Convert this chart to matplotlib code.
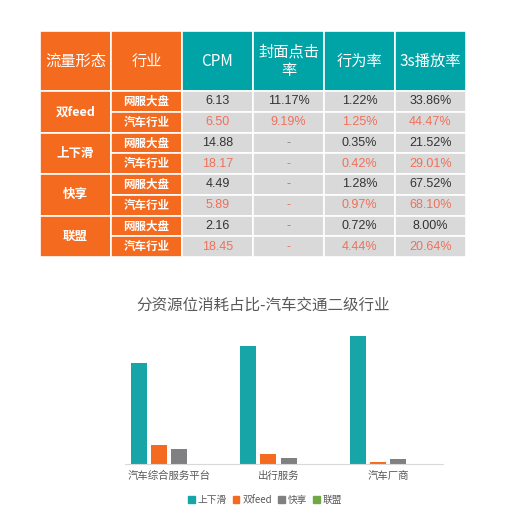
import matplotlib.pyplot as plt
from matplotlib.patches import Rectangle, Patch

plt.rcParams['font.family'] = ['Noto Sans CJK SC', 'DejaVu Sans']

# table data
headers = ['流量形态', '行业', 'CPM', '封面点击\n率', '行为率', '3s播放率']
flows = ['双feed', '上下滑', '快享', '联盟']
industries = ['网服大盘', '汽车行业']
cpm = ['6.13', '6.50', '14.88', '18.17', '4.49', '5.89', '2.16', '18.45']
ctr = ['11.17%', '9.19%', '-', '-', '-', '-', '-', '-']
action_rate = ['1.22%', '1.25%', '0.35%', '0.42%', '1.28%', '0.97%', '0.72%', '4.44%']
play3s = ['33.86%', '44.47%', '21.52%', '29.01%', '67.52%', '68.10%', '8.00%', '20.64%']

# chart data (share %)
categories = ['汽车综合服务平台', '出行服务', '汽车厂商']
series_names = ['上下滑', '双feed', '快享', '联盟']
slide = [75, 88, 95]
dual_feed = [14, 7.2, 1.3]
kuaixiang = [11, 4.5, 3.5]
lianmeng = [0, 0, 0]

ORANGE = '#F46A1F'
TEAL = '#00A4A7'
GRAY_CELL = '#D9D9D9'
DARK = '#333333'
RED = '#F0705A'
NUM_FONT = ['Liberation Sans', 'DejaVu Sans']

W, H = 508, 509
fig = plt.figure(figsize=(W / 100, H / 100), dpi=100)

# ---------- table ----------
tax = fig.add_axes([40 / W, 1 - 257 / H, 426 / W, 226 / H])
head_h = 2.9
tax.set_xlim(0, 6)
tax.set_ylim(8, -head_h)
tax.axis('off')

for c, h in enumerate(headers):
    fc = ORANGE if c < 2 else TEAL
    tax.add_patch(Rectangle((c, -head_h), 1, head_h, fc=fc, ec='white', lw=1.2))
    tax.text(c + 0.5, -head_h / 2, h, ha='center', va='center', color='white',
             fontsize=11, linespacing=1.1)

for i, f in enumerate(flows):
    tax.add_patch(Rectangle((0, 2 * i), 1, 2, fc=ORANGE, ec='white', lw=1.2))
    tax.text(0.5, 2 * i + 1, f, ha='center', va='center', color='white',
             fontsize=9, fontweight='bold')

cols = [cpm, ctr, action_rate, play3s]
for r in range(8):
    tax.add_patch(Rectangle((1, r), 1, 1, fc=ORANGE, ec='white', lw=1.2))
    tax.text(1.5, r + 0.5, industries[r % 2], ha='center', va='center',
             color='white', fontsize=8.3, fontweight='bold')
    for j, col in enumerate(cols):
        tax.add_patch(Rectangle((2 + j, r), 1, 1, fc=GRAY_CELL, ec='white', lw=1.2))
        val = col[r]
        if r % 2 == 1:
            color = RED
        else:
            color = '#888888' if val == '-' else DARK
        tax.text(2 + j + 0.5, r + 0.5, val, ha='center', va='center',
                 color=color, fontsize=9, family=NUM_FONT)

# ---------- bar chart ----------
ax = fig.add_axes([125 / W, 1 - 464 / H, 318 / W, 134.4 / H])
colors = ['#17A5A8', '#F46A1F', '#808083', '#70A845']
data = [slide, dual_feed, kuaixiang, lianmeng]
slot = 0.183
width = 0.146
for k, (name, vals) in enumerate(zip(series_names, data)):
    xs = [i + (k - 1.5) * slot for i in range(len(categories))]
    ax.bar(xs, vals, width=width, color=colors[k], label=name)

ax.set_xlim(-0.40, 2.50)
ax.set_ylim(0, 100)
ax.set_xticks(range(len(categories)))
ax.set_xticklabels(categories, fontsize=7.5, color='#595959')
ax.tick_params(axis='x', length=0, pad=5)
ax.set_yticks([])
for s in ['top', 'right', 'left']:
    ax.spines[s].set_visible(False)
ax.spines['bottom'].set_color('#D9D9D9')

fig.text(263 / W, 1 - 305 / H, '分资源位消耗占比-汽车交通二级行业', ha='center',
         va='center', fontsize=11.2, color='#595959')

handles = [Patch(color=c) for c in colors]
fig.legend(handles, series_names, loc='center', bbox_to_anchor=(265 / W, 1 - 500 / H),
           ncol=4, frameon=False, fontsize=7, handlelength=0.7, handleheight=0.7,
           handletextpad=0.3, columnspacing=0.6, labelcolor='#595959')

fig.savefig('out.png', dpi=100, facecolor='white')
